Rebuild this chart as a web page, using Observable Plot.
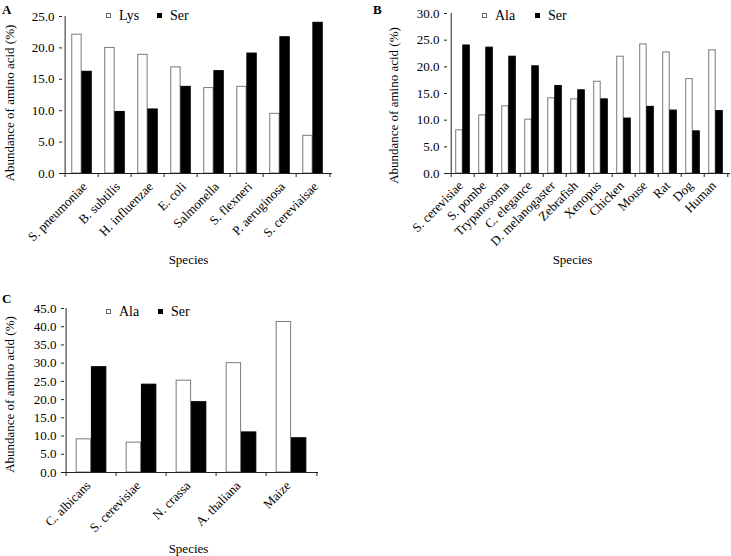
<!DOCTYPE html>
<html><head><meta charset="utf-8">
<script src="https://cdn.jsdelivr.net/npm/d3@7"></script>
<script src="https://cdn.jsdelivr.net/npm/@observablehq/plot@0.6"></script>
<style>
body{margin:0;background:#fff;}
#root{position:relative;width:731px;height:556px;font-family:"Liberation Serif","Times New Roman",serif;overflow:hidden;background:#fff}
.panel{position:absolute}
.tag{position:absolute;font-weight:bold;font-size:13px;line-height:13px}
.leg{position:absolute;font-size:14px;line-height:14px;height:14px;display:flex;align-items:center;white-space:nowrap}
.sw{display:inline-block;width:5px;height:5px;margin-right:8px;box-sizing:border-box}
.sw.w{background:#fff;border:1px solid #666}
.sw.b{background:#000}
</style></head><body><div id="root"></div>
<script>
// ---- Panel A ----
const speciesA = ["S. pneumoniae","B. subtilis","H. influenzae","E. coli","Salmonella","S. flexneri","P. aeruginosa","S. cereviaisae"];
const lysA = [22.1, 20.0, 18.9, 16.9, 13.6, 13.8, 9.5, 6.0];
const serA = [16.2, 9.8, 10.2, 13.8, 16.3, 19.1, 21.7, 24.0];
const ticksA = [0, 5, 10, 15, 20, 25];
// ---- Panel B ----
const speciesB = ["S. cerevisiae","S. pombe","Trypanosoma","C. elegance","D. melanogaster","Zebrafish","Xenopus","Chicken","Mouse","Rat","Dog","Human"];
const alaB = [8.1, 10.9, 12.6, 10.1, 14.1, 13.9, 17.2, 21.9, 24.2, 22.7, 17.7, 23.1];
const serB = [24.0, 23.6, 21.9, 20.1, 16.4, 15.6, 13.9, 10.3, 12.5, 11.8, 7.9, 11.7];
const ticksB = [0, 5, 10, 15, 20, 25, 30];
// ---- Panel C ----
const speciesC = ["C. albicans","S. cerevisiae","N. crassa","A. thaliana","Maize"];
const alaC = [9.1, 8.2, 25.2, 30.0, 41.3];
const serC = [28.9, 24.1, 19.3, 11.0, 9.4];
const ticksC = [0, 5, 10, 15, 20, 25, 30, 35, 40, 45];

const yTitle = "Abundance of amino acid (%)";
const xTitle = "Species";

function panel(o) {
  const {species, name1, v1, v2, ticks, width, height, marginLeft, marginRight, marginTop, marginBottom} = o;
  const rows1 = species.map((s, i) => ({species: s, aa: name1, v: v1[i]}));
  const rows2 = species.map((s, i) => ({species: s, aa: "Ser", v: v2[i]}));
  const bw = (width - marginLeft - marginRight) / species.length;
  const yMax = ticks[ticks.length - 1];
  return Plot.plot({
    width, height, marginLeft, marginRight, marginTop, marginBottom,
    style: {fontFamily: '"Liberation Serif","Times New Roman",serif', fontSize: "13px", color: "#000", background: "#fff", overflow: "visible"},
    x: {type: "band", domain: species, padding: 0},
    y: {domain: [0, yMax]},
    marks: [
      Plot.barY(rows1, {x: "species", y: "v", fill: "#fff", stroke: "#7a7a7a", strokeWidth: 1, insetLeft: 0.2 * bw, insetRight: 0.5 * bw}),
      Plot.barY(rows2, {x: "species", y: "v", fill: "#000", stroke: "#000", strokeWidth: 1, insetLeft: 0.5 * bw, insetRight: 0.2 * bw}),
      Plot.ruleY([0], {stroke: "#222"}),
      Plot.ruleX(species, {x: d => d, y1: 0, y2: 0, insetBottom: -4, dx: -bw / 2, stroke: "#222"}),
      Plot.ruleX([species[species.length - 1]], {x: d => d, y1: 0, y2: 0, insetBottom: -4, dx: bw / 2, stroke: "#222"}),
      Plot.ruleX([species[0]], {x: d => d, y1: 0, y2: yMax, dx: -bw / 2, stroke: "#222"}),
      Plot.axisY({ticks, tickFormat: d3.format(".1f"), tickSize: 3, tickPadding: 5, label: null, stroke: "#222"}),
      Plot.axisX({tickRotate: -45, tickSize: 0, tickPadding: o.tickPad, dx: o.tickDx, label: null}),
      Plot.text([yTitle], {frameAnchor: "left", textAnchor: "middle", lineAnchor: "middle", rotate: -90, dx: o.yDx, dy: o.yDy, fill: "#000"}),
      Plot.text([xTitle], {frameAnchor: "bottom", textAnchor: "middle", lineAnchor: "middle", dx: o.sDx, dy: o.sDy, fill: "#000"})
    ]
  });
}

const root = document.getElementById("root");
function place(el, left, top) {
  const d = document.createElement("div");
  d.className = "panel";
  d.style.left = left + "px";
  d.style.top = top + "px";
  d.appendChild(el);
  root.appendChild(d);
}
function tag(t, x, y) {
  const d = document.createElement("div");
  d.className = "tag"; d.textContent = t;
  d.style.left = x + "px"; d.style.top = y + "px";
  root.appendChild(d);
}
function legend(name1, x1, x2, y) {
  const mk = (cls, name, x) => {
    const d = document.createElement("div");
    d.className = "leg";
    d.style.left = x + "px"; d.style.top = (y - 7) + "px";
    const s = document.createElement("span"); s.className = "sw " + cls;
    d.appendChild(s);
    d.appendChild(document.createTextNode(name));
    root.appendChild(d);
  };
  mk("w", name1, x1);
  mk("b", "Ser", x2);
}

place(panel({species: speciesA, name1: "Lys", v1: lysA, v2: serA, ticks: ticksA,
  width: 340, height: 268, marginLeft: 62, marginRight: 8, marginTop: 16, marginBottom: 95,
  tickPad: 11, tickDx: 3, yDx: -53, yDy: 8, sDx: -9, sDy: 86}), 0, 0);
place(panel({species: speciesB, name1: "Ala", v1: alaB, v2: serB, ticks: ticksB,
  width: 361, height: 268, marginLeft: 77, marginRight: 1, marginTop: 13, marginBottom: 95,
  tickPad: 10, tickDx: -2, yDx: -54, yDy: 12, sDx: -16.5, sDy: 86}), 370, 0);
place(panel({species: speciesC, name1: "Ala", v1: alaC, v2: serC, ticks: ticksC,
  width: 340, height: 271, marginLeft: 64, marginRight: 22, marginTop: 23, marginBottom: 84,
  tickPad: 11, tickDx: -3, yDx: -55, yDy: 4, sDx: -3, sDy: 76}), 0, 285);

tag("A", 2, 3);
tag("B", 373, 3);
tag("C", 2, 292);
legend("Lys", 106, 157, 15.5);
legend("Ala", 482, 535, 15.5);
legend("Ala", 106, 158, 311.5);
</script>
</body></html>
